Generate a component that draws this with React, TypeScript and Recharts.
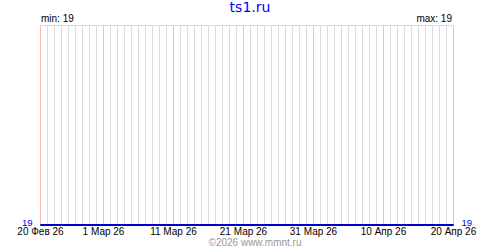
import { LineChart, Line, XAxis, YAxis, ReferenceLine } from 'recharts'

// one point per day, 20 Feb 26 .. 20 Apr 26
const dayIndex = [
  0, 1, 2, 3, 4, 5, 6, 7, 8, 9, 10, 11, 12, 13, 14, 15, 16, 17, 18, 19,
  20, 21, 22, 23, 24, 25, 26, 27, 28, 29, 30, 31, 32, 33, 34, 35, 36, 37, 38, 39,
  40, 41, 42, 43, 44, 45, 46, 47, 48, 49, 50, 51, 52, 53, 54, 55, 56, 57, 58, 59,
]
const values = [
  19, 19, 19, 19, 19, 19, 19, 19, 19, 19, 19, 19, 19, 19, 19, 19, 19, 19, 19, 19,
  19, 19, 19, 19, 19, 19, 19, 19, 19, 19, 19, 19, 19, 19, 19, 19, 19, 19, 19, 19,
  19, 19, 19, 19, 19, 19, 19, 19, 19, 19, 19, 19, 19, 19, 19, 19, 19, 19, 19, 19,
]
const labelDays = [0, 9, 19, 29, 39, 49, 59]
const labelTexts = ['20 Фев 26', '1 Мар 26', '11 Мар 26', '21 Мар 26', '31 Мар 26', '10 Апр 26', '20 Апр 26']
const yTicks = [19]
const yDomain = [19, 20]

const data = dayIndex.map((d, i) => ({ day: d, value: values[i] }))
const plainDays = dayIndex.filter((d) => !labelDays.includes(d))

const FONT = '"Liberation Sans", Arial, sans-serif'

function DayTick(props: any) {
  const { x, y, payload } = props
  const idx = labelDays.indexOf(payload.value)
  if (idx < 0) return null
  return (
    <text x={x} y={y} dy="0.71em" textAnchor="middle" fontSize={10} fontFamily={FONT} fill="#000">
      {labelTexts[idx]}
    </text>
  )
}

function ValueTick(props: any) {
  const { x, y, payload, side } = props
  return (
    <text
      x={x}
      y={y}
      dy={0.5}
      textAnchor={side === 'right' ? 'start' : 'end'}
      fontSize={9.5}
      fontFamily={FONT}
      fill="#0000ff"
    >
      {payload.value}
    </text>
  )
}

export default function App() {
  return (
    <div style={{ position: 'absolute', left: 0, top: 0, width: 500, height: 250, background: '#fff' }}>
      <LineChart width={500} height={250} data={data} margin={{ top: 25.5, right: 0, left: 0, bottom: 0 }}>
        <XAxis
          dataKey="day"
          type="number"
          domain={[0, 59]}
          ticks={labelDays}
          interval={0}
          axisLine={false}
          tickLine={false}
          tickSize={2}
          tickMargin={1}
          height={25}
          tick={<DayTick />}
        />
        <YAxis
          yAxisId="left"
          orientation="left"
          domain={yDomain}
          ticks={yTicks}
          width={40.5}
          axisLine={false}
          tickLine={false}
          tick={<ValueTick side="left" />}
        />
        <YAxis
          yAxisId="right"
          orientation="right"
          domain={yDomain}
          ticks={yTicks}
          width={46.5}
          axisLine={false}
          tickLine={false}
          tick={<ValueTick side="right" />}
        />
        {plainDays.map((d) => (
          <ReferenceLine key={'g' + d} yAxisId="left" x={d} stroke="#dcdcdc" strokeWidth={1} />
        ))}
        {labelDays.map((d) => (
          <ReferenceLine key={'p' + d} yAxisId="left" x={d} stroke="#ffb8b8" strokeWidth={1} />
        ))}
        <ReferenceLine yAxisId="left" y={yDomain[1]} stroke="#dcdcdc" strokeWidth={1} />
        <Line
          yAxisId="right"
          type="linear"
          dataKey="value"
          stroke="#0000cc"
          strokeWidth={2}
          dot={false}
          isAnimationActive={false}
        />
        <Line
          yAxisId="left"
          type="linear"
          dataKey="value"
          stroke="#0000cc"
          strokeWidth={2}
          dot={false}
          isAnimationActive={false}
        />
      </LineChart>
      <svg width={500} height={250} style={{ position: 'absolute', left: 0, top: 0, pointerEvents: 'none' }}>
        <text x={250} y={12} textAnchor="middle" fontSize={14} fontFamily='"DejaVu Sans", sans-serif' fill="#0000ff">
          ts1.ru
        </text>
        <text x={41} y={22} fontSize={10} fontFamily={FONT} fill="#000">
          min: 19
        </text>
        <text x={452} y={22} textAnchor="end" fontSize={10} fontFamily={FONT} fill="#000">
          max: 19
        </text>
        <text x={255} y={246} textAnchor="middle" fontSize={10} fontFamily={FONT} fill="#999">
          ©2026 www.mmnt.ru
        </text>
      </svg>
    </div>
  )
}
